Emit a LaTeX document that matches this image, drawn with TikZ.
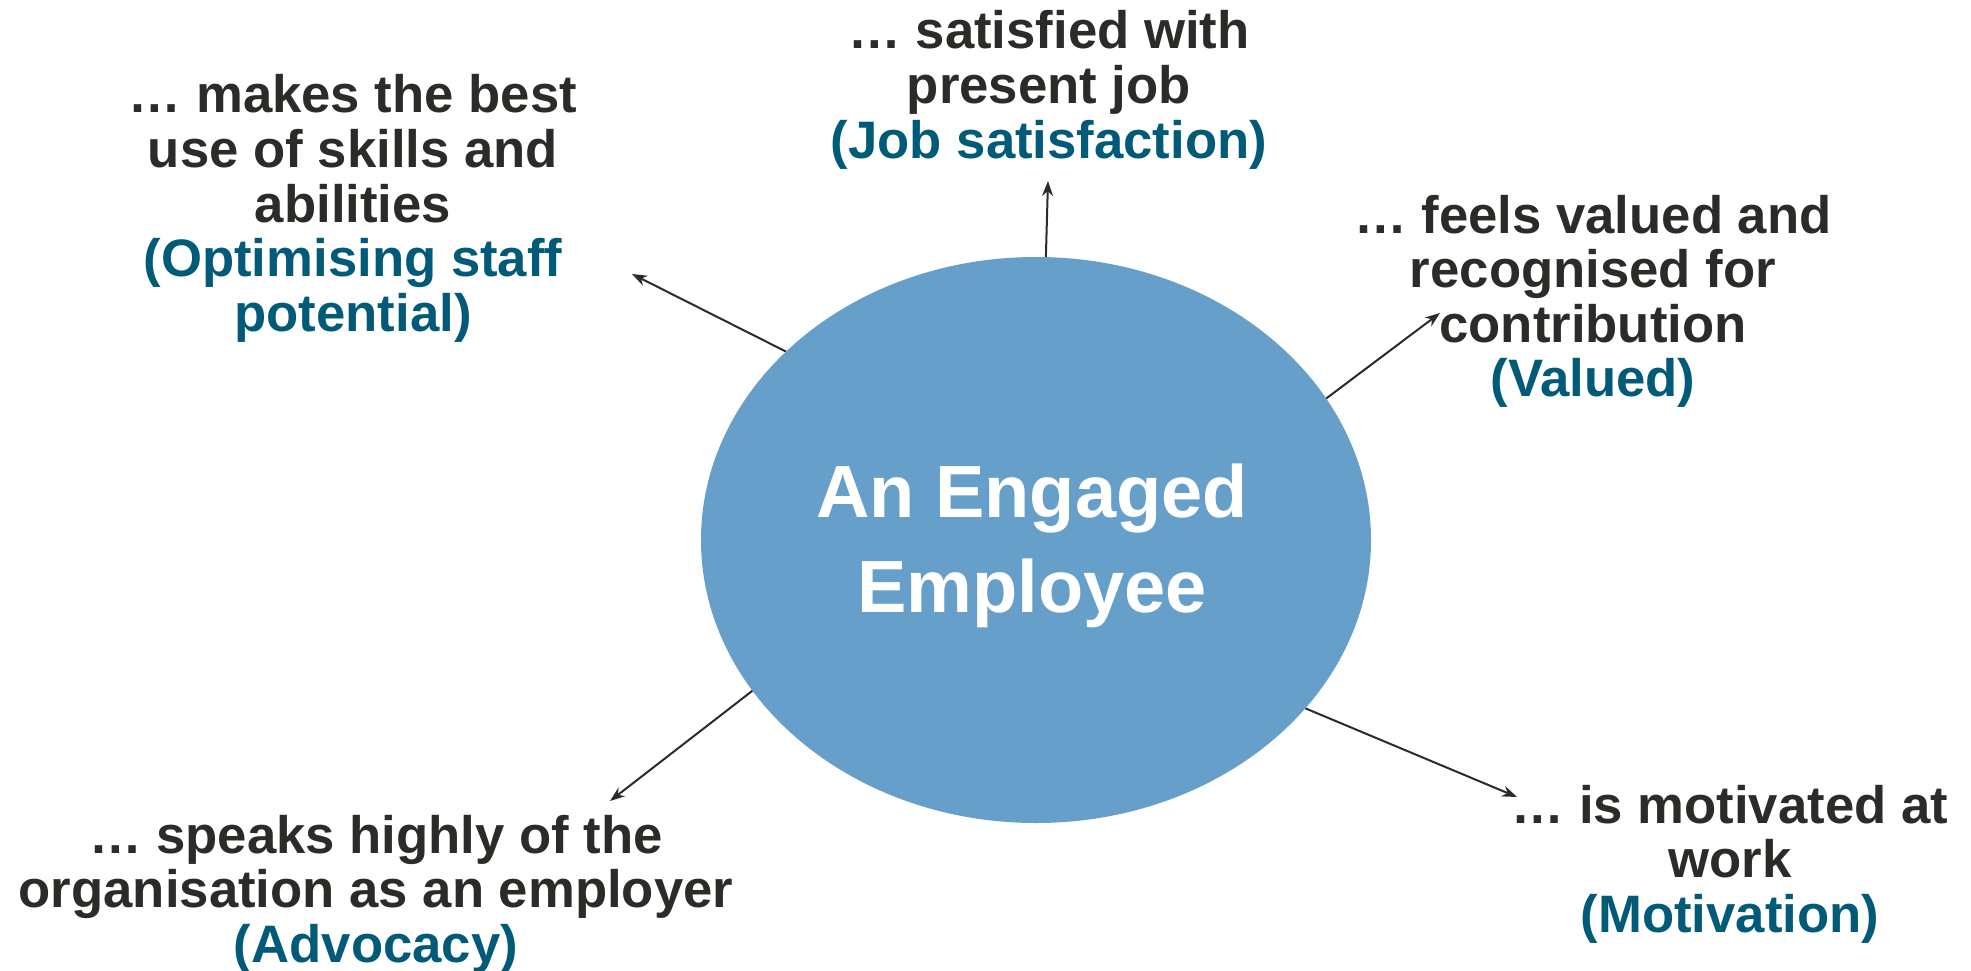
\documentclass[tikz,border=0pt]{standalone}
\usepackage{fontspec}
\setmainfont{Liberation Sans}
\usetikzlibrary{shapes.geometric,arrows.meta}
\definecolor{inkdark}{HTML}{2B2B28}
\definecolor{inkblue}{HTML}{005A78}
\definecolor{discblue}{HTML}{669FC9}
% stacked, centred lines whose baseline is the first line's baseline
\newcommand\stacklines[1]{\begin{tabular}[t]{@{}c@{}}#1\end{tabular}}
\newcommand\tag[1]{{\color{inkblue}#1}}

\begin{document}
\begin{tikzpicture}[x=1pt,y=-1pt,
  caption/.style={anchor=base, inner sep=0pt, text=inkdark,
    font=\bfseries\fontsize{52.7}{54.5}\selectfont},
  link/.style={draw=inkdark, line width=2pt, -{Stealth[length=15pt,width=11pt]}}]

\useasboundingbox (0,0) rectangle (1971,971);

% central disc
\node[ellipse, fill=discblue, minimum width=670pt, minimum height=566pt, inner sep=0pt]
  (emp) at (1036,540) {};
\node[anchor=base, inner sep=0pt, text=white,
  font=\bfseries\fontsize{74}{95}\selectfont] (title) at (1032,517)
  {\stacklines{An Engaged\\Employee}};

% surrounding statements
\node[caption] (skills) at (353,113)
  {\stacklines{\dots\ makes the best\\use of skills and\\abilities\\
   \tag{(Optimising staff}\\\tag{potential)}}};
\node[caption] (satisfied) at (1049,49)
  {\stacklines{\dots\ satisfied with\\present job\\\tag{(Job satisfaction)}}};
\node[caption] (valued) at (1593,233)
  {\stacklines{\dots\ feels valued and\\recognised for\\contribution\\\tag{(Valued)}}};
\node[caption] (advocacy) at (376,853)
  {\stacklines{\dots\ speaks highly of the\\organisation as an employer\\\tag{(Advocacy)}}};
\node[caption] (motivated) at (1730,823)
  {\stacklines{\dots\ is motivated at\\work\\\tag{(Motivation)}}};

% arrow tips
\coordinate (toSkills) at (632,274);
\coordinate (toSatisfied) at (1048,181);
\coordinate (toValued) at (1440,313);
\coordinate (toAdvocacy) at (610,801);
\coordinate (toMotivated) at (1517,797);

\draw[link] (emp.143.7) -- (toSkills);
\draw[link] (emp.88.6) -- (toSatisfied);
\draw[link] (emp.26) -- (toValued);
\draw[link] (emp.208) -- (toAdvocacy);
\draw[link] (emp.-32) -- (toMotivated);
\end{tikzpicture}
\end{document}
